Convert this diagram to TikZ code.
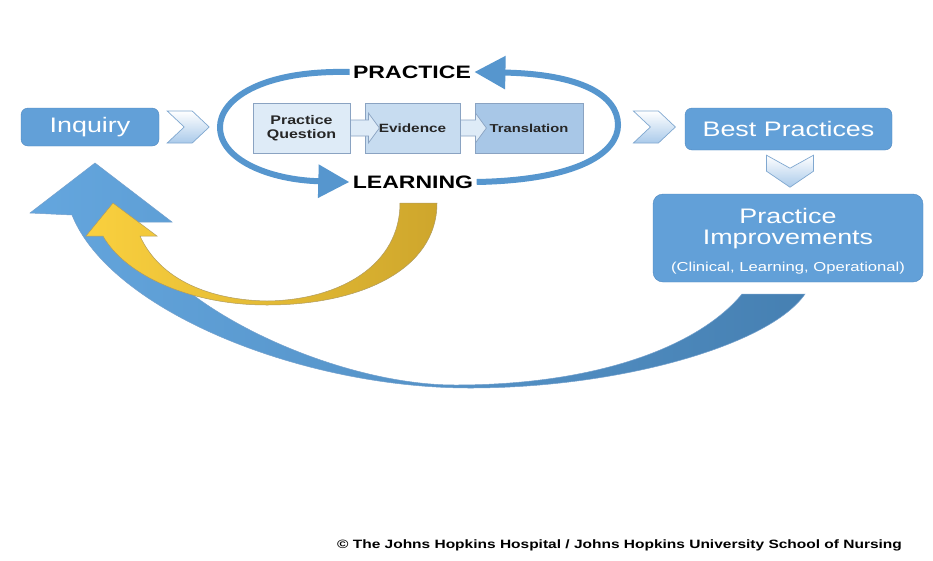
\documentclass[tikz,border=0pt]{standalone}
\usepackage{fontspec}
\setmainfont{Liberation Sans}
\newfontfamily\widesans[FakeStretch=1.28]{Liberation Sans}
\usetikzlibrary{arrows.meta,calc}

\definecolor{boxblue}{RGB}{98,160,216}
\definecolor{boxedge}{RGB}{80,136,192}
\definecolor{pqfill}{RGB}{222,235,247}
\definecolor{evfill}{RGB}{199,220,240}
\definecolor{trfill}{RGB}{168,199,231}
\definecolor{stepedge}{RGB}{138,163,194}
\definecolor{loopblue}{RGB}{86,150,206}
\definecolor{chevfill}{RGB}{170,202,234}
\definecolor{chevedge}{RGB}{128,168,208}
\definecolor{goldL}{RGB}{250,208,62}
\definecolor{goldR}{RGB}{206,166,44}
\definecolor{goldedge}{RGB}{176,156,96}
\definecolor{sweepL}{RGB}{100,166,222}
\definecolor{sweepR}{RGB}{70,128,178}

\tikzset{
  bluebox/.style={draw=boxedge,fill=boxblue,rounded corners=7pt,text=white,align=center,inner sep=0pt},
  stepbox/.style={draw=stepedge,line width=0.8pt,minimum height=50pt,inner sep=0pt,align=center,text=black!85},
  chev/.style={draw=chevedge,line width=0.7pt,top color=white,bottom color=chevfill},
  looparrow/.style={draw=loopblue,line width=6pt,-{Triangle[length=31pt,width=32pt]}},
  tab/.style={draw=stepedge,line width=0.7pt,fill=pqfill},
  rchev/.pic={\path[chev] (0,-16) -- (25,-16) -- (42,0) -- (25,16) -- (0,16) -- (17,0) -- cycle;},
  dchev/.pic={\path[chev] (-23.5,0) -- (0,13) -- (23.5,0) -- (23.5,16) -- (0,32) -- (-23.5,16) -- cycle;}
}

\begin{document}
\begin{tikzpicture}[x=1pt,y=-1pt]
  \useasboundingbox[fill=white] (0,0) rectangle (933,560);

  %% Big return arrow
  \path[draw=boxedge!80,line width=0.5pt,left color=sweepL,middle color=sweepL!85!sweepR,right color=sweepR]
    (805,294) .. controls (770,345) and (620,388) .. (470,388)
    .. controls (300,388) and (110,310) .. (72,215)
    -- (30,213) -- (95,163) -- (172,222) -- (133,222)
    .. controls (155,300) and (330,385) .. (455,385)
    .. controls (600,385) and (700,345) .. (742,294) -- cycle;

  %% Learning arrow
  \path[draw=goldedge,line width=0.5pt,left color=goldL,right color=goldR]
    (437,203) .. controls (437,270) and (360,305) .. (267,305)
    .. controls (190,305) and (125,275) .. (103,236)
    -- (86,236) -- (113,203) -- (157,236) -- (140,236)
    .. controls (160,280) and (210,300) .. (267,301)
    .. controls (340,300) and (400,265) .. (400,203) -- cycle;

  %% Boxes
  \node[bluebox,minimum width=138pt,minimum height=38pt,font=\widesans\fontsize{21}{24}\selectfont] (inq) at (90,127) {Inquiry};
  \node[stepbox,fill=pqfill,minimum width=97pt,font=\widesans\bfseries\fontsize{12.5}{13.5}\selectfont] (pq) at (301.5,128) {Practice\\Question};
  \node[stepbox,fill=evfill,minimum width=95pt,font=\widesans\bfseries\fontsize{12}{13}\selectfont] (ev) at (412.5,128) {Evidence};
  \node[stepbox,fill=trfill,minimum width=108pt,font=\widesans\bfseries\fontsize{11.5}{13}\selectfont] (tr) at (529,128) {Translation};
  \node[bluebox,minimum width=207pt,minimum height=42pt,font=\widesans\fontsize{21}{24}\selectfont] (best) at (788.5,129) {Best Practices};
  \node[bluebox,rounded corners=10pt,minimum width=270pt,minimum height=88pt,font=\widesans\fontsize{21}{21}\selectfont] (pi) at (788,238)
    {\rule{0pt}{21pt}Practice\\Improvements\\[6pt]\fontsize{13}{15}\selectfont (Clinical, Learning, Operational)};

  %% Step tabs
  \path[tab] (pq.east) ++(0,-8) -- ++(18,0) -- ++(0,-7) -- ++(11,15) -- ++(-11,15) -- ++(0,-7) -- ++(-18,0) -- cycle;
  \path[tab] (ev.east) ++(0,-8) -- ++(15,0) -- ++(0,-7) -- ++(11,15) -- ++(-11,15) -- ++(0,-7) -- ++(-15,0) -- cycle;

  %% Chevrons
  \pic at ($(inq.east)+(8,0)$) {rchev};
  \pic at ($(tr.east)+(50,-1)$) {rchev};
  \pic at ($(best.south)+(1.5,5)$) {dchev};

  %% Practice / learning loop
  \node[font=\widesans\bfseries\fontsize{18}{20}\selectfont] (prac) at (412,72) {PRACTICE};
  \node[font=\widesans\bfseries\fontsize{18}{20}\selectfont] (lrn) at (413,182) {LEARNING};
  \draw[looparrow] (prac.west) .. controls (260,70) and (220,100) .. (220,127)
    .. controls (220,160) and (270,180) .. (lrn.west);
  \draw[looparrow] (lrn.east) .. controls (580,180) and (618,152) .. (618,125)
    .. controls (618,95) and (580,74) .. (prac.east);

  %% Footer
  \node[font=\widesans\bfseries\fontsize{12.1}{14}\selectfont] (copy) at (619.5,545) {© The Johns Hopkins Hospital / Johns Hopkins University School of Nursing};
\end{tikzpicture}
\end{document}
